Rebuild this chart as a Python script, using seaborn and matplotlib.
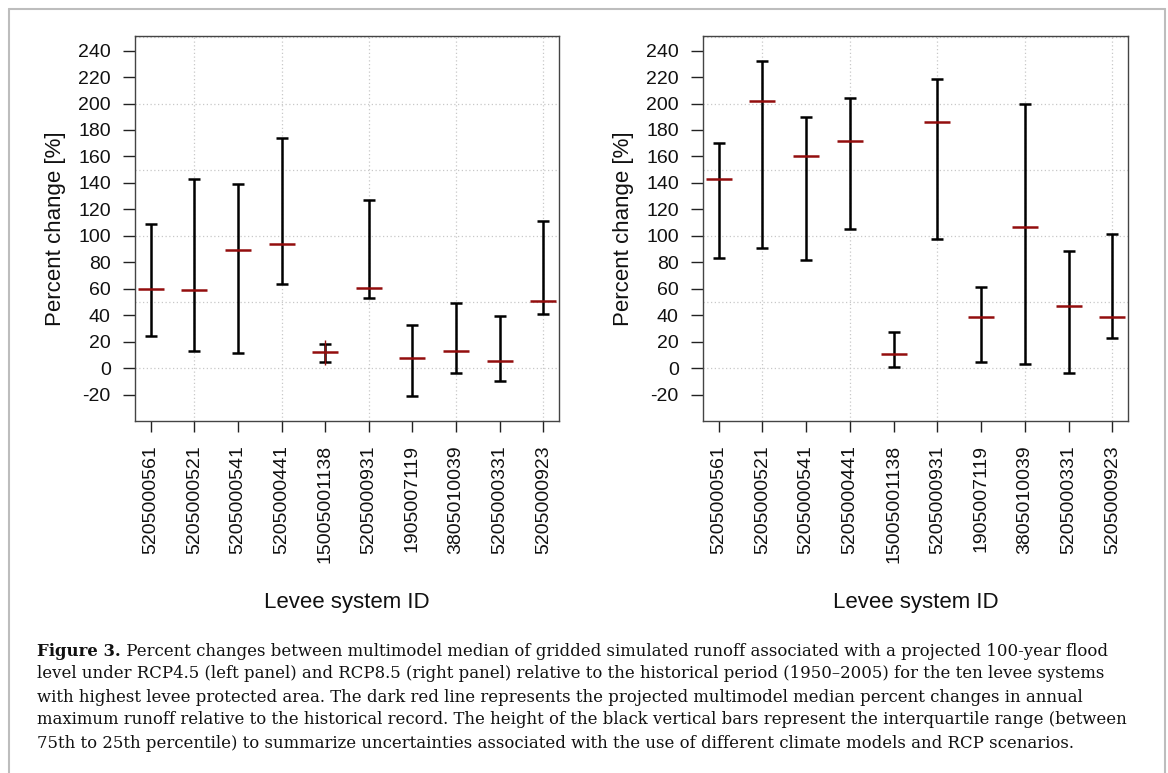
import numpy as np
import pandas as pd
import matplotlib
matplotlib.use("Agg")
import matplotlib.pyplot as plt
import seaborn as sns
from matplotlib.lines import Line2D

# ---------------- data ----------------
levee_ids = ["5205000561", "5205000521", "5205000541", "5205000441", "15005001138",
             "5205000931", "1905007119", "3805010039", "5205000331", "5205000923"]

rcp45_median = [59.8, 59.0, 89.6, 93.8, 12.0, 61.0, 7.5, 13.3, 5.7, 51.0]
rcp45_q75 = [109.0, 143.3, 139.3, 173.6, 18.1, 127.4, 33.0, 49.0, 39.8, 111.3]
rcp45_q25 = [24.4, 13.1, 11.8, 63.8, 5.0, 53.5, -20.8, -3.3, -9.4, 40.8]
# thin red range visible at the fifth system in the left panel
rcp45_red_idx = [5]
rcp45_red_hi = [21.6]
rcp45_red_lo = [2.7]

rcp85_median = [142.8, 202.1, 160.5, 171.6, 10.5, 186.2, 39.0, 106.5, 47.4, 39.0]
rcp85_q75 = [170.1, 231.9, 189.5, 203.9, 27.2, 218.5, 61.3, 199.6, 89.0, 101.2]
rcp85_q25 = [83.7, 91.1, 81.7, 105.0, 1.2, 97.9, 5.0, 3.5, -3.3, 22.9]

y_ticks = list(range(-20, 241, 20))
grid_x = [2, 4, 6, 8, 10]
grid_y = [0, 50, 100, 150, 200, 250]

caption_bold = "Figure 3."
caption_lines = [
    " Percent changes between multimodel median of gridded simulated runoff associated with a projected 100-year flood",
    "level under RCP4.5 (left panel) and RCP8.5 (right panel) relative to the historical period (1950\u20132005) for the ten levee systems",
    "with highest levee protected area. The dark red line represents the projected multimodel median percent changes in annual",
    "maximum runoff relative to the historical record. The height of the black vertical bars represent the interquartile range (between",
    "75th to 25th percentile) to summarize uncertainties associated with the use of different climate models and RCP scenarios.",
]

# ---------------- style ----------------
sns.set_theme(style="white")
plt.rcParams["font.family"] = ["Liberation Sans", "DejaVu Sans"]

W, H = 1168, 773
fig = plt.figure(figsize=(W / 100, H / 100), dpi=100)
fig.patch.set_facecolor("white")

DARKRED = "#930d0d"
GRIDC = "#c8c8c8"


def panel(ax, med, q75, q25, red_idx=None, red_hi=None, red_lo=None):
    x = np.arange(1, len(levee_ids) + 1)
    df = pd.DataFrame({"x": x, "median": med, "q75": q75, "q25": q25})
    med_arr = df["median"].to_numpy()
    ax.set_xlim(0.64, 10.36)
    ax.set_ylim(-39.5, 251.2)
    # grid at pretty positions (as R's grid())
    for gx in grid_x:
        ax.axvline(gx, color=GRIDC, linestyle=(0, (1, 2)), linewidth=0.9, zorder=1)
    for gy in grid_y:
        ax.axhline(gy, color=GRIDC, linestyle=(0, (1, 2)), linewidth=0.9, zorder=1)
    ax.grid(False)
    # IQR bars
    ax.errorbar(df["x"], med_arr,
                yerr=[med_arr - df["q25"].to_numpy(), df["q75"].to_numpy() - med_arr],
                fmt="none", ecolor="black", elinewidth=1.8, capsize=4.2,
                capthick=1.8, zorder=3)
    if red_idx is not None:
        ax.vlines(red_idx, red_lo, red_hi, color=DARKRED, linewidth=1.0, zorder=4)
    # medians
    sns.scatterplot(data=df, x="x", y="median", marker="_", s=(25.5 * 0.72) ** 2,
                    color=DARKRED, linewidth=1.8, ax=ax, zorder=5, legend=False)
    ax.set_xticks(x)
    ax.set_xticklabels(levee_ids, rotation=90, fontsize=14, va="top")
    ax.set_yticks(y_ticks)
    ax.set_yticklabels([str(v) for v in y_ticks], fontsize=14)
    ax.tick_params(axis="x", which="major", direction="out", length=8, width=1,
                   pad=9.5, colors="#222222", labelcolor="#111111", bottom=True)
    ax.tick_params(axis="y", which="major", direction="out", length=8.4, width=1,
                   pad=9, colors="#222222", labelcolor="#111111", left=True)
    for s in ax.spines.values():
        s.set_color("#444444")
        s.set_linewidth(1.0)
        s.set_visible(True)
        s.set_zorder(6)
    ax.set_xlabel("Levee system ID", fontsize=16, color="#111111")
    ax.set_ylabel("Percent change [%]", fontsize=16, color="#111111")
    ax.xaxis.set_label_coords(0.5, -0.445)
    ax.yaxis.set_label_coords(-0.163, 0.5)


ax1 = fig.add_axes([135 / W, 1 - 420.7 / H, 424 / W, 385 / H])
ax2 = fig.add_axes([703 / W, 1 - 420.7 / H, 425 / W, 385 / H])
panel(ax1, rcp45_median, rcp45_q75, rcp45_q25, rcp45_red_idx, rcp45_red_hi, rcp45_red_lo)
panel(ax2, rcp85_median, rcp85_q75, rcp85_q25)

# outer frame (left, top, right)
fc = "#bdbdbd"
for xs, ys in [([8.5, 8.5], [H, 8.5]), ([8.5, 1165], [8.5, 8.5]), ([1165, 1165], [8.5, H])]:
    fig.add_artist(Line2D([v / W for v in xs], [1 - v / H for v in ys],
                          color=fc, linewidth=1.5, transform=fig.transFigure))

# caption: fit font size so that the longest line spans the reference width
cap_font = ["DejaVu Serif"]
x0 = 37 / W
target_w = 1117 - 37
line_y = [651, 674, 697, 720, 743]
r = fig.canvas.get_renderer()
probe = fig.text(0, 0, caption_lines[3], fontsize=12, family=cap_font)
pw = probe.get_window_extent(renderer=r).width
probe.remove()
cap_size = 12 * target_w / pw

tb = fig.text(x0, 1 - line_y[0] / H, caption_bold, fontsize=cap_size, family=cap_font,
              weight="bold", ha="left", va="center", color="#111111")
bw = tb.get_window_extent(renderer=r).width
fig.text(x0 + bw / W, 1 - line_y[0] / H, caption_lines[0], fontsize=cap_size,
         family=cap_font, ha="left", va="center", color="#111111")
for yy, txt in zip(line_y[1:], caption_lines[1:]):
    fig.text(x0, 1 - yy / H, txt, fontsize=cap_size, family=cap_font,
             ha="left", va="center", color="#111111")

fig.savefig("out.png", dpi=100, facecolor="white")
